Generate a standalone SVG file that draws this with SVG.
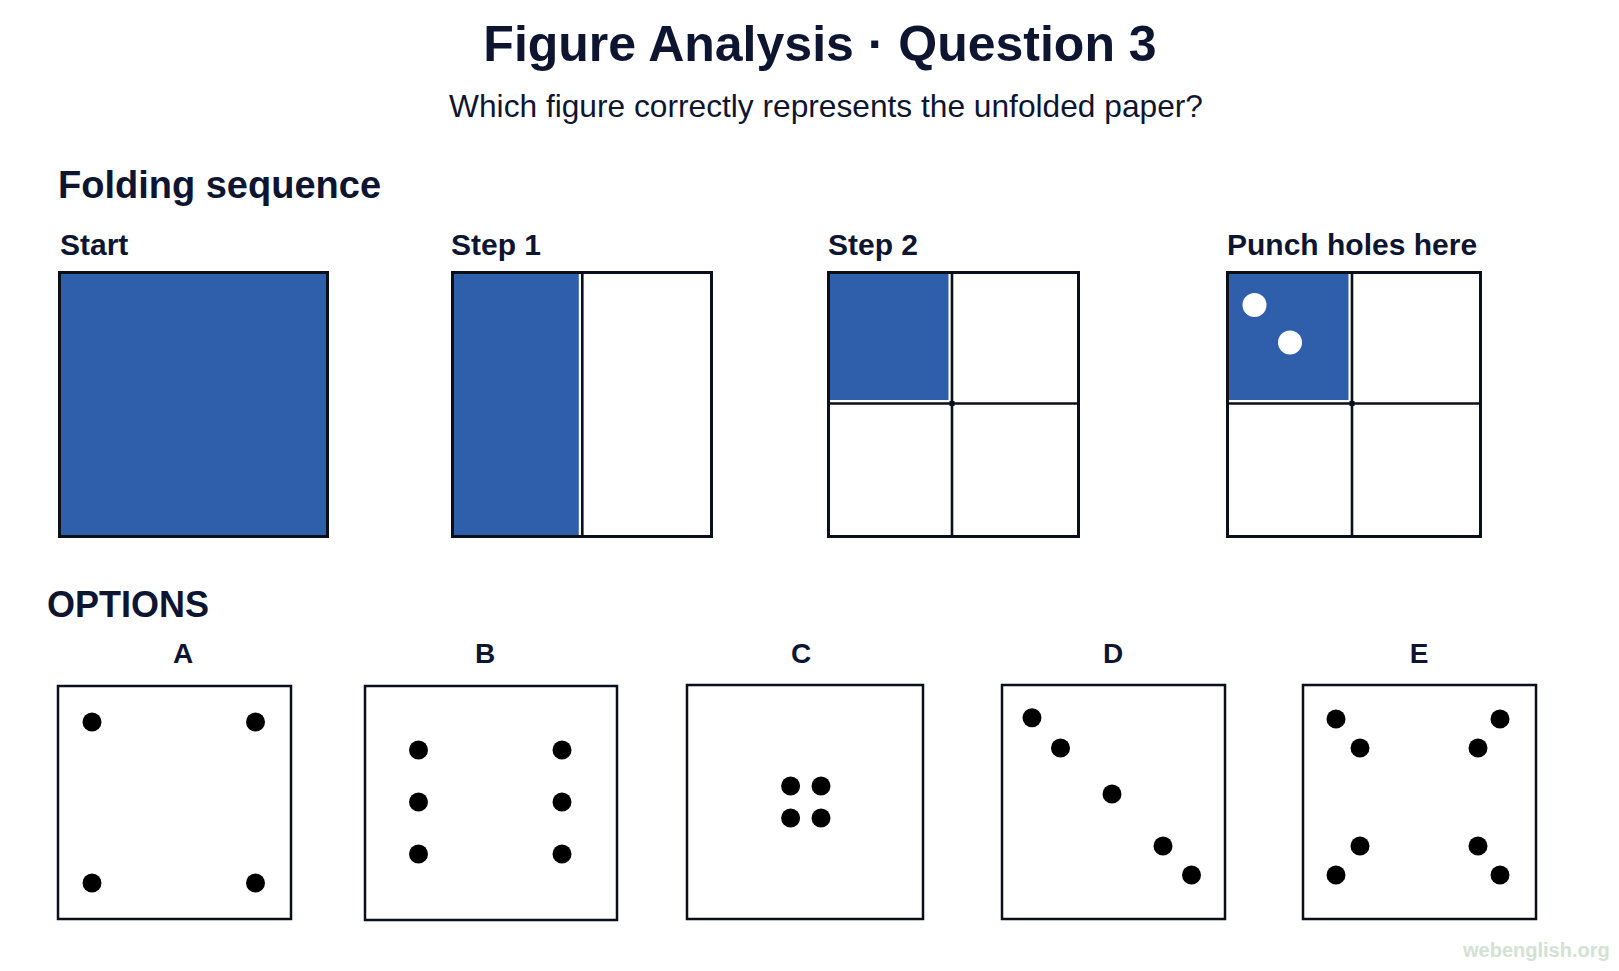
<svg xmlns="http://www.w3.org/2000/svg" width="1619" height="971" viewBox="0 0 1619 971">
<style>
.t{font-family:"Liberation Sans",Arial,sans-serif;fill:#0e1530;font-weight:bold}
.sub{font-family:"Liberation Sans",Arial,sans-serif;fill:#0e1530}
.frame{fill:none;stroke:#0b0f1c;stroke-width:3}
.blue{fill:#2f5fab}
.gap{stroke:#ffffff;stroke-width:7}
.fold{stroke:#0b0f1c;stroke-width:2.6}
.opt{fill:#ffffff;stroke:#0b0f1c;stroke-width:2.5}
.dot{fill:#000000}
.hole{fill:#ffffff}
</style>
<rect x="0" y="0" width="1619" height="971" fill="#ffffff"/>
<g id="header">
<text class="t" x="820" y="61" font-size="50" text-anchor="middle">Figure Analysis · Question 3</text>
<text class="sub" x="826" y="117" font-size="31.7" text-anchor="middle">Which figure correctly represents the unfolded paper?</text>
<text class="t" x="58" y="198" font-size="38">Folding sequence</text>
</g>
<g id="start">
<text class="t" x="60" y="255" font-size="30">Start</text>
<rect class="blue" x="58" y="271" width="271" height="267"/>
<rect class="frame" x="59.5" y="272.5" width="268" height="264"/>
</g>
<g id="step1">
<text class="t" x="451" y="255" font-size="30">Step 1</text>
<rect x="451" y="271" width="262" height="267" fill="#ffffff"/>
<rect class="blue" x="451" y="271" width="131" height="267"/>
<line class="gap" x1="582.3" y1="273" x2="582.3" y2="536"/>
<line class="fold" x1="582.3" y1="271" x2="582.3" y2="538"/>
<rect class="frame" x="452.5" y="272.5" width="259" height="264"/>
</g>
<g id="step2">
<text class="t" x="828" y="255" font-size="30">Step 2</text>
<rect x="827" y="271" width="253" height="267" fill="#ffffff"/>
<rect class="blue" x="827" y="271" width="125" height="132"/>
<line class="gap" x1="952" y1="273" x2="952" y2="536"/>
<line class="gap" x1="829" y1="403.5" x2="1078" y2="403.5"/>
<line class="fold" x1="952" y1="271" x2="952" y2="538"/>
<line class="fold" x1="827" y1="403.5" x2="1080" y2="403.5"/>
<rect x="949.5" y="401" width="5" height="5" fill="#0b0f1c"/>
<rect class="frame" x="828.5" y="272.5" width="250" height="264"/>
</g>
<g id="punch">
<text class="t" x="1227" y="255" font-size="30">Punch holes here</text>
<rect x="1226" y="271" width="256" height="267" fill="#ffffff"/>
<rect class="blue" x="1226" y="271" width="126" height="132"/>
<line class="gap" x1="1352" y1="273" x2="1352" y2="536"/>
<line class="gap" x1="1228" y1="403.5" x2="1480" y2="403.5"/>
<line class="fold" x1="1352" y1="271" x2="1352" y2="538"/>
<line class="fold" x1="1226" y1="403.5" x2="1482" y2="403.5"/>
<rect x="1349.5" y="401" width="5" height="5" fill="#0b0f1c"/>
<rect class="frame" x="1227.5" y="272.5" width="253" height="264"/>
<circle class="hole" cx="1254.5" cy="305" r="12"/>
<circle class="hole" cx="1290" cy="342.5" r="12"/>
</g>
<text class="t" x="47" y="617" font-size="36">OPTIONS</text>
<g id="optA">
<text class="t" x="183" y="663" font-size="28" text-anchor="middle">A</text>
<rect class="opt" x="58" y="686" width="233" height="233"/>
<circle class="dot" cx="92" cy="722" r="9.5"/>
<circle class="dot" cx="255.5" cy="722" r="9.5"/>
<circle class="dot" cx="92" cy="883" r="9.5"/>
<circle class="dot" cx="255.5" cy="883" r="9.5"/>
</g>
<g id="optB">
<text class="t" x="485" y="663" font-size="28" text-anchor="middle">B</text>
<rect class="opt" x="365" y="686" width="252" height="234"/>
<circle class="dot" cx="418.5" cy="750" r="9.5"/>
<circle class="dot" cx="418.5" cy="802" r="9.5"/>
<circle class="dot" cx="418.5" cy="854" r="9.5"/>
<circle class="dot" cx="562" cy="750" r="9.5"/>
<circle class="dot" cx="562" cy="802" r="9.5"/>
<circle class="dot" cx="562" cy="854" r="9.5"/>
</g>
<g id="optC">
<text class="t" x="801" y="663" font-size="28" text-anchor="middle">C</text>
<rect class="opt" x="687" y="685" width="236" height="234"/>
<circle class="dot" cx="790.6" cy="786" r="9.5"/>
<circle class="dot" cx="821" cy="786" r="9.5"/>
<circle class="dot" cx="790.6" cy="818" r="9.5"/>
<circle class="dot" cx="821" cy="818" r="9.5"/>
</g>
<g id="optD">
<text class="t" x="1113" y="663" font-size="28" text-anchor="middle">D</text>
<rect class="opt" x="1002" y="685" width="223" height="234"/>
<circle class="dot" cx="1032" cy="717.7" r="9.5"/>
<circle class="dot" cx="1060.5" cy="748" r="9.5"/>
<circle class="dot" cx="1112" cy="794" r="9.5"/>
<circle class="dot" cx="1163" cy="846" r="9.5"/>
<circle class="dot" cx="1191.5" cy="875" r="9.5"/>
</g>
<g id="optE">
<text class="t" x="1419" y="663" font-size="28" text-anchor="middle">E</text>
<rect class="opt" x="1303" y="685" width="233" height="234"/>
<circle class="dot" cx="1336" cy="719" r="9.5"/>
<circle class="dot" cx="1360" cy="748" r="9.5"/>
<circle class="dot" cx="1500" cy="719" r="9.5"/>
<circle class="dot" cx="1478" cy="748" r="9.5"/>
<circle class="dot" cx="1360" cy="846" r="9.5"/>
<circle class="dot" cx="1336" cy="875" r="9.5"/>
<circle class="dot" cx="1478" cy="846" r="9.5"/>
<circle class="dot" cx="1500" cy="875" r="9.5"/>
</g>
<text x="1463" y="957" font-family="Liberation Sans, Arial, sans-serif" font-weight="bold" font-size="20" fill="#d3e2d3">webenglish.org</text>
</svg>
